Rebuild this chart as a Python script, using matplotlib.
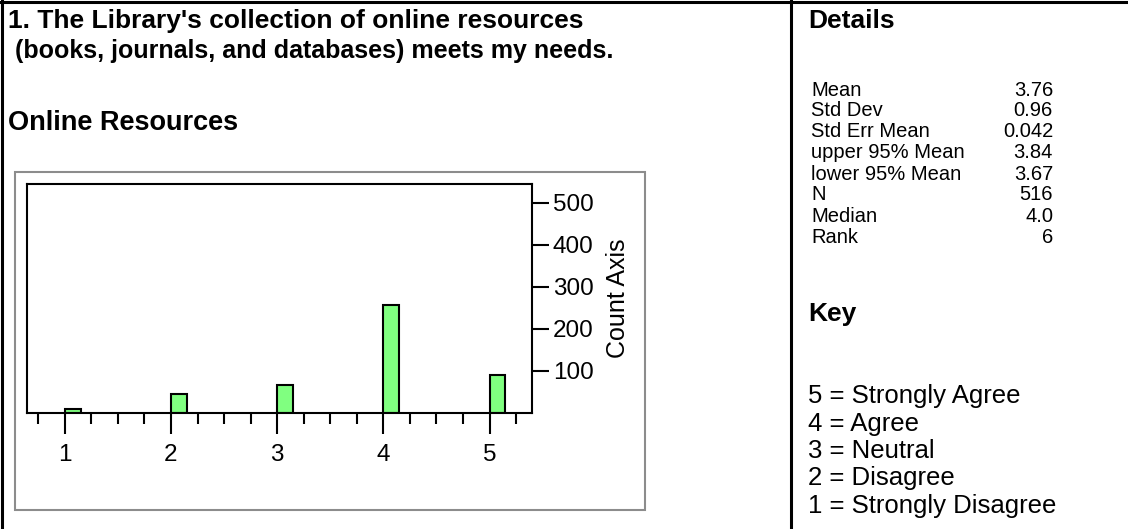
import matplotlib
matplotlib.use("Agg")
from matplotlib import pyplot as plt
from matplotlib.lines import Line2D
from matplotlib.patches import Rectangle

plt.rcParams["font.family"] = ["Liberation Sans", "DejaVu Sans"]

W, H = 1128, 529

# data
categories = [1, 2, 3, 4, 5]
counts = [10, 45, 67, 258, 91]
count_ticks = [100, 200, 300, 400, 500]

title_lines = [
    "1. The Library's collection of online resources",
    " (books, journals, and databases) meets my needs.",
]
chart_title = "Online Resources"

stat_names = ["Mean", "Std Dev", "Std Err Mean", "upper 95% Mean",
              "lower 95% Mean", "N", "Median", "Rank"]
stat_values = ["3.76", "0.96", "0.042", "3.84", "3.67", "516", "4.0", "6"]

key_lines = ["5 = Strongly Agree", "4 = Agree", "3 = Neutral",
             "2 = Disagree", "1 = Strongly Disagree"]


def fx(x):
    return x / W


def fy(y):
    return 1 - y / H


fig = plt.figure(figsize=(W / 100, H / 100), dpi=100)

# outer frame and divider
for xs, ys in [([1.5, 1.5], [0, H]), ([0, W], [1.5, 1.5]), ([791, 791], [0, H])]:
    fig.add_artist(Line2D([fx(v) for v in xs], [fy(v) for v in ys],
                          transform=fig.transFigure, color="black", lw=2.2))

# grey box around the chart
fig.add_artist(Rectangle((fx(15), fy(510)), fx(645 - 15), (510 - 172) / H,
                         transform=fig.transFigure, fill=False,
                         edgecolor="#8c8c8c", lw=1.5))

# texts on the left
fig.text(fx(8), fy(21), title_lines[0], fontsize=19, fontweight="bold", va="center")
fig.text(fx(8), fy(51), title_lines[1], fontsize=18, fontweight="bold", va="center")
fig.text(fx(8), fy(123), chart_title, fontsize=19.5, fontweight="bold", va="center")

# details panel
fig.text(fx(808), fy(21), "Details", fontsize=19, fontweight="bold", va="center")
for i, (name, val) in enumerate(zip(stat_names, stat_values)):
    y = 90 + i * 21
    fig.text(fx(811), fy(y), name, fontsize=14.5, va="center")
    fig.text(fx(1053), fy(y), val, fontsize=14.5, va="center", ha="right")

fig.text(fx(808), fy(314), "Key", fontsize=19, fontweight="bold", va="center")
for i, line in enumerate(key_lines):
    fig.text(fx(808), fy(396 + i * 27.5), line, fontsize=18.5, va="center")

# chart
ax = fig.add_axes([fx(27), fy(413), fx(532 - 27), (413 - 184) / H])
ax.bar(categories, counts, width=0.15, align="edge", color="#80ff80",
       edgecolor="black", linewidth=1.5)
ax.set_xlim(0.644, 5.4)
ax.set_ylim(0, 545)

for s in ax.spines.values():
    s.set_linewidth(1.5)
    s.set_color("black")

ax.set_xticks(categories)
ax.set_xticks([c + d for c in [0] + categories for d in (0.25, 0.5, 0.75)
               if 0.7 < c + d < 5.4 and (c + d) % 1 != 0], minor=True)
ax.tick_params(axis="x", which="major", length=15, width=1.5, labelsize=17.5, pad=7)
ax.tick_params(axis="x", which="minor", length=8, width=1.5)

ax.yaxis.tick_right()
ax.yaxis.set_label_position("right")
ax.set_yticks(count_ticks)
ax.tick_params(axis="y", which="major", length=12, width=1.5, labelsize=17.5, pad=3)
ax.set_ylabel("Count Axis", fontsize=18, labelpad=9)

fig.savefig("out.png", dpi=100)
